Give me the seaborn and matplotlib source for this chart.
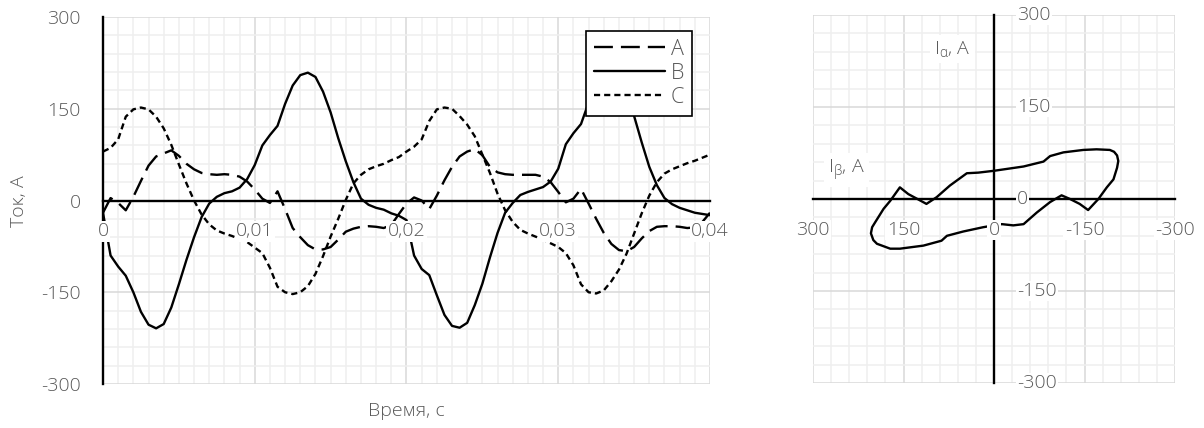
import numpy as np
import pandas as pd
import seaborn as sns
import matplotlib
matplotlib.use("Agg")
import matplotlib.pyplot as plt
from matplotlib.ticker import MultipleLocator

# ---- phase currents, sampled every 0.5 ms over two periods ----
time_s = np.arange(0, 81) * 0.0005

phase_a = [-20, 4, -4, -16, 6, 32, 57, 72, 77, 82, 73, 60, 51, 45, 43, 42, 43, 42, 39, 31,
           18, 3, -4, 15, -14, -45, -60, -73, -80, -80, -76, -64, -51, -46, -43, -42, -43, -45, -40, -22,
           -5, 5, 0, -14, 8, 33, 55, 72, 80, 84, 74, 55, 46, 43, 42, 42, 42, 42, 39, 30,
           14, -3, 3, 19, -5, -30, -53, -71, -81, -83, -76, -62, -50, -43, -42, -42, -43, -45, -44, -35,
           -20]
phase_b = [-20, -90, -108, -123, -150, -182, -203, -209, -202, -175, -137, -97, -60, -27, -5, 6, 12, 15, 21, 35,
           58, 90, 107, 122, 158, 188, 205, 209, 202, 178, 144, 102, 64, 30, 3, -7, -12, -15, -21, -25,
           -32, -90, -112, -122, -155, -187, -205, -208, -200, -171, -136, -93, -53, -20, -4, 9, 14, 18, 22, 31,
           52, 92, 110, 125, 160, 190, 206, 209, 201, 175, 138, 95, 55, 25, 4, -6, -12, -16, -20, -22,
           -24]
phase_c = [80, 86, 100, 137, 149, 152, 149, 137, 118, 91, 59, 28, 0, -23, -39, -49, -54, -58, -63, -68,
           -77, -86, -110, -141, -150, -153, -150, -140, -120, -91, -59, -30, 1, 28, 42, 51, 56, 60, 66, 71,
           80, 88, 100, 130, 149, 152, 150, 138, 124, 105, 75, 45, 11, -16, -35, -48, -54, -59, -64, -70,
           -76, -86, -106, -137, -150, -152, -147, -132, -113, -87, -54, -21, 8, 30, 44, 51, 56, 61, 65, 70,
           75]

phase_names = ["A", "B", "C"]
time_ticks = [0, 0.01, 0.02, 0.03, 0.04]
time_labels = ["0", "0,01", "0,02", "0,03", "0,04"]
current_ticks = [-300, -150, 0, 150, 300]
current_labels = ["-300", "-150", "0", "150", "300"]

# ---- space vector hodograph ----
i_beta = [0.0, -21, -49, -82, -93, -115, -148, -170, -192, -199, -204, -206, -204, -198, -187, -173, -156,
          -142, -126, -112, -93, -71, -49, -32, -13, 0.0, 18, 51, 78, 87, 117, 156, 172, 183, 194, 200,
          204, 202, 197, 183, 172, 156, 142, 125, 112, 95, 73, 45, 26]
i_alpha = [46, 49, 53, 61, 70, 76, 80, 81, 80, 77, 71, 62, 51, 32, 19, 0, -18,
           -8, 0, 6, -5, -22, -41, -43, -41, -43, -46, -53, -60, -68, -76, -81, -81, -77, -73, -67,
           -56, -46, -38, -16, -3, 19, 8, -1, -8, 3, 22, 42, 43]
hodo_ticks = [300, 150, 0, -150, -300]
hodo_labels = ["300", "150", "0", "-150", "-300"]

TEXT = "#595959"
MAJOR = "#d9d9d9"
MINOR = "#efefef"
LW = 1.7

sns.set_theme(style="white")
plt.rcParams["font.family"] = ["Open Sans", "DejaVu Sans"]
plt.rcParams["font.weight"] = "light"
plt.rcParams["mathtext.fontset"] = "custom"
plt.rcParams["mathtext.rm"] = "Open Sans:light"
plt.rcParams["mathtext.it"] = "Open Sans:light"
plt.rcParams["mathtext.default"] = "regular"

fig = plt.figure(figsize=(12.04, 4.28), dpi=100)
ax1 = fig.add_axes([103 / 1204, 1 - 384 / 428, 607 / 1204, 367 / 428])
ax2 = fig.add_axes([813 / 1204, 1 - 383 / 428, 362 / 1204, 368 / 428])

# ---- left: currents versus time ----
df = pd.DataFrame({"t": time_s, "A": phase_a, "B": phase_b, "C": phase_c})
long = df.melt("t", var_name="phase", value_name="i")
dashes = {"A": (8.0, 3.4), "B": "", "C": (2.6, 1.7)}
sns.lineplot(data=long, x="t", y="i", style="phase", style_order=phase_names,
             dashes=dashes, color="black", lw=LW, estimator=None, legend=False, ax=ax1)
for ln in ax1.lines:
    ln.set_solid_joinstyle("round")
    ln.set_dash_joinstyle("round")

ax1.set_xlim(0, 0.04)
ax1.set_ylim(-300, 300)
ax1.xaxis.set_major_locator(MultipleLocator(0.01))
ax1.xaxis.set_minor_locator(MultipleLocator(0.001))
ax1.set_yticks(current_ticks)
ax1.set_yticklabels(current_labels)
ax1.yaxis.set_minor_locator(MultipleLocator(30))
ax1.grid(which="major", color=MAJOR, lw=1.1)
ax1.grid(which="minor", color=MINOR, lw=1.1)
ax1.set_axisbelow(True)
for s in ("top", "right"):
    ax1.spines[s].set_visible(False)
ax1.spines["bottom"].set_position(("data", 0))
for s in ("left", "bottom"):
    ax1.spines[s].set_color("black")
    ax1.spines[s].set_linewidth(LW)
ax1.tick_params(axis="both", which="minor", length=0)
ax1.tick_params(axis="y", which="major", direction="out", length=5, width=LW,
                color="black", labelsize=14, labelcolor=TEXT, pad=11)
ax1.tick_params(axis="x", which="major", direction="out", length=5, width=LW,
                color="black", labelbottom=False)
ax1.set_xlabel("")
ax1.set_ylabel("")
for t, lab in zip(time_ticks, time_labels):
    ax1.annotate(lab, (t, 0), xytext=(0, -22.3), textcoords="offset points",
                 ha="center", va="center", fontsize=14, color=TEXT, zorder=5,
                 annotation_clip=False,
                 bbox=dict(fc="white", ec="none", pad=1.0))

leg = ax1.legend(ax1.lines[:3], phase_names, loc="upper right",
                 bbox_to_anchor=(0.9704, 0.9619), borderaxespad=0, frameon=True,
                 fancybox=False, framealpha=1, edgecolor="black", fontsize=15.5,
                 labelcolor=TEXT, handlelength=3.3, handletextpad=0.3,
                 labelspacing=0.15, borderpad=0.35)
leg.get_frame().set_linewidth(1.2)
leg.set_zorder(6)

fig.text(19 / 1204, 1 - 201 / 428, "Ток, А", rotation=90, ha="center", va="center",
         fontsize=14, color=TEXT)
fig.text(406.5 / 1204, 1 - 411 / 428, "Время, с", ha="center", va="center",
         fontsize=14, color=TEXT)

# ---- right: alpha-beta hodograph ----
hodo = pd.DataFrame({"beta": i_beta + [i_beta[0]], "alpha": i_alpha + [i_alpha[0]]})
sns.lineplot(data=hodo, x="beta", y="alpha", sort=False, estimator=None,
             color="black", lw=LW, ax=ax2)
for ln in ax2.lines:
    ln.set_solid_joinstyle("round")
ax2.set_xlim(300, -300)
ax2.set_ylim(-300, 300)
ax2.set_xticks(hodo_ticks)
ax2.set_yticks(hodo_ticks)
ax2.xaxis.set_minor_locator(MultipleLocator(30))
ax2.yaxis.set_minor_locator(MultipleLocator(30))
ax2.grid(which="major", color=MAJOR, lw=1.1)
ax2.grid(which="minor", color=MINOR, lw=1.1)
ax2.set_axisbelow(True)
for s in ("top", "right"):
    ax2.spines[s].set_visible(False)
for s in ("left", "bottom"):
    ax2.spines[s].set_position(("data", 0))
    ax2.spines[s].set_color("black")
    ax2.spines[s].set_linewidth(LW)
ax2.tick_params(axis="both", which="minor", length=0)
ax2.tick_params(axis="x", which="major", direction="out", length=5, width=LW,
                color="black", labelbottom=False)
ax2.tick_params(axis="y", which="major", direction="in", length=5, width=LW,
                color="black", labelleft=False)
ax2.set_xlabel("")
ax2.set_ylabel("")
for v, lab in zip(hodo_ticks, hodo_labels):
    ax2.annotate(lab, (v, 0), xytext=(0, -22.3), textcoords="offset points",
                 ha="center", va="center", fontsize=14, color=TEXT, zorder=5,
                 annotation_clip=False, bbox=dict(fc="white", ec="none", pad=1.0))
    ax2.annotate(lab, (0, v), xytext=(16.5, 0), textcoords="offset points",
                 ha="left", va="center", fontsize=14, color=TEXT, zorder=5,
                 annotation_clip=False, bbox=dict(fc="white", ec="none", pad=1.0))

ax2.text(99.5, 244, "I$_{α}$, A", ha="left", va="center", fontsize=14, color=TEXT,
         zorder=5, bbox=dict(fc="white", ec="none", pad=3))
ax2.text(275, 47, "I$_{β}$, A", ha="left", va="center", fontsize=14, color=TEXT,
         zorder=5, bbox=dict(fc="white", ec="none", pad=3))

fig.savefig("out.png", dpi=100, facecolor="white")
